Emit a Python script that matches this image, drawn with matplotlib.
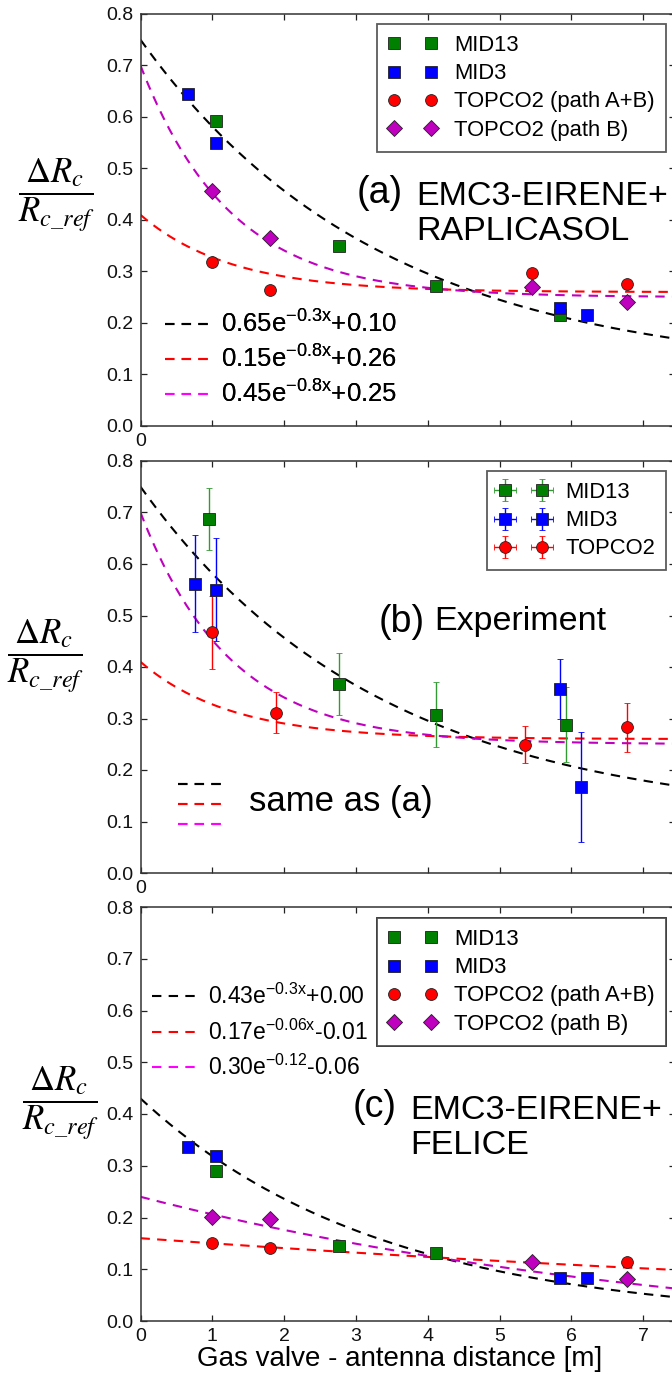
import numpy as np
import matplotlib
matplotlib.use('Agg')
import matplotlib.pyplot as plt
from matplotlib.lines import Line2D

plt.rcParams['font.family'] = ['Liberation Sans', 'DejaVu Sans']
plt.rcParams['mathtext.fontset'] = 'custom'
plt.rcParams['mathtext.rm'] = 'Liberation Sans'
plt.rcParams['mathtext.it'] = 'Liberation Sans'

# ---- data ----
# (a) EMC3-EIRENE + RAPLICASOL
a_mid13_x = [1.05, 2.77, 4.12, 5.84]
a_mid13_y = [0.593, 0.350, 0.272, 0.216]
a_mid3_x = [0.66, 1.05, 5.84, 6.22]
a_mid3_y = [0.644, 0.550, 0.230, 0.216]
a_topab_x = [0.99, 1.81, 5.45, 6.78]
a_topab_y = [0.319, 0.265, 0.298, 0.276]
a_topb_x = [0.99, 1.81, 5.45, 6.78]
a_topb_y = [0.457, 0.366, 0.269, 0.240]

# (b) Experiment
b_mid13_x = [0.96, 2.77, 4.12, 5.93]
b_mid13_y = [0.687, 0.367, 0.307, 0.288]
b_mid13_err = [0.060, 0.060, 0.063, 0.073]
b_mid3_x = [0.76, 1.05, 5.84, 6.13]
b_mid3_y = [0.562, 0.550, 0.358, 0.167]
b_mid3_err = [0.095, 0.100, 0.058, 0.107]
b_top_x = [0.99, 1.89, 5.36, 6.78]
b_top_y = [0.467, 0.311, 0.249, 0.283]
b_top_err = [0.070, 0.040, 0.036, 0.048]

# (c) EMC3-EIRENE + FELICE
c_mid13_x = [1.05, 2.77, 4.12]
c_mid13_y = [0.290, 0.145, 0.132]
c_mid3_x = [0.66, 1.05, 5.84, 6.22]
c_mid3_y = [0.337, 0.319, 0.084, 0.084]
c_topab_x = [0.99, 1.81, 6.78]
c_topab_y = [0.151, 0.142, 0.114]
c_topb_x = [0.99, 1.81, 5.45, 6.78]
c_topb_y = [0.201, 0.198, 0.114, 0.082]

# fit curves  A*exp(-k x) + c   (black, red, magenta)
fit_a_amp = [0.65, 0.15, 0.45]
fit_a_rate = [0.3, 0.8, 0.8]
fit_a_off = [0.10, 0.26, 0.25]
fit_a_labels = ['0.65e$^{\\mathrm{-0.3x}}$+0.10',
                '0.15e$^{\\mathrm{-0.8x}}$+0.26',
                '0.45e$^{\\mathrm{-0.8x}}$+0.25']
fit_c_amp = [0.43, 0.17, 0.30]
fit_c_rate = [0.3, 0.06, 0.12]
fit_c_off = [0.00, -0.01, -0.06]
fit_c_labels = ['0.43e$^{\\mathrm{-0.3x}}$+0.00',
                '0.17e$^{\\mathrm{-0.06x}}$-0.01',
                '0.30e$^{\\mathrm{-0.12}}$-0.06']

fit_colors = ['k', 'r', 'm']
leg_colors = ['k', 'r', '#ff00ff']
green = (0, 0.5, 0)
purple = (0.75, 0, 0.75)
dash = (0, (4.5, 3.5))

W, H = 672, 1375
fig = plt.figure(figsize=(W / 100, H / 100), dpi=100)

x0_px, unit_px = 140.5, 71.8
right_px = 675
xmax = (right_px - x0_px) / unit_px


def make_ax(top, bottom):
    ax = fig.add_axes([x0_px / W, 1 - bottom / H, (right_px - x0_px) / W, (bottom - top) / H])
    ax.set_xlim(0, xmax)
    ax.set_ylim(0, 0.8)
    ax.set_xticks(range(8))
    ax.set_yticks(np.arange(0, 0.81, 0.1))
    ax.set_yticklabels(['%.1f' % v for v in np.arange(0, 0.81, 0.1)])
    ax.tick_params(direction='in', top=True, right=True, length=4, width=0.9,
                   labelsize=14, pad=5, colors='#222222', labelcolor='#111111')
    for s in ax.spines.values():
        s.set_linewidth(1.1)
        s.set_color('#333333')
    return ax


def draw_fits(ax, amp, rate, off):
    xs = np.linspace(0, 8, 300)
    for A, k, c, col in zip(amp, rate, off, fit_colors):
        ax.plot(xs, A * np.exp(-k * xs) + c, color=col, ls=dash, lw=1.5, zorder=2)


mk = dict(ms=8.5, mec='#222222', mew=0.6, ls='none', zorder=3)


def draw_points(ax, d):
    hs = []
    hs += ax.plot(d[0][0], d[0][1], 's', color=green, label='MID13', **mk)
    hs += ax.plot(d[1][0], d[1][1], 's', color='b', label='MID3', **mk)
    hs += ax.plot(d[2][0], d[2][1], 'o', color='r', label='TOPCO2 (path A+B)', **mk)
    hs += ax.plot(d[3][0], d[3][1], 'D', color=purple, label='TOPCO2 (path B)', **mk)
    return hs


def box_legend(ax, handles, top_px, panel_top, panel_h):
    leg = ax.legend(handles=handles, loc='upper right', numpoints=2, fontsize=15.8,
                    bbox_to_anchor=((666 - x0_px) / (right_px - x0_px), 1 - (top_px - panel_top) / panel_h),
                    borderaxespad=0, frameon=True, fancybox=False, handlelength=2.3,
                    handletextpad=0.75, labelspacing=0.33, borderpad=0.5)
    leg.get_frame().set_edgecolor('#333333')
    leg.get_frame().set_linewidth(1.3)
    leg.set_zorder(6)
    ax.add_artist(leg)


def fit_legend(ax, labels, x_px, y_px, panel_top, panel_h, fs=18.5, tp=0.35, sp=0.3):
    hs = [Line2D([], [], color=c, ls=dash, lw=1.5) for c in leg_colors]
    leg = ax.legend(hs, labels, loc='center left', frameon=False, fontsize=fs,
                    bbox_to_anchor=((x_px - x0_px) / (right_px - x0_px), 1 - (y_px - panel_top) / panel_h),
                    borderaxespad=0, borderpad=0, handlelength=47 / (fs * 100 / 72), handletextpad=tp,
                    labelspacing=sp)
    leg.set_zorder(5)
    ax.add_artist(leg)
    return leg


def ylabel(x_px, y_px):
    fig.text(x_px / W, 1 - y_px / H, r'$\dfrac{\Delta R_c}{R_{c\_ref}}$', fontsize=25,
             math_fontfamily='stix', ha='center', va='center')


# ---------- panel (a) ----------
ta, ba = 14, 426
ax1 = make_ax(ta, ba)
draw_fits(ax1, fit_a_amp, fit_a_rate, fit_a_off)
h = draw_points(ax1, [(a_mid13_x, a_mid13_y), (a_mid3_x, a_mid3_y),
                      (a_topab_x, a_topab_y), (a_topb_x, a_topb_y)])
box_legend(ax1, h, 24, ta, ba - ta)
fit_legend(ax1, fit_a_labels, 165, 359, ta, ba - ta)
ax1.set_xticklabels(['0'] + [''] * 7)
ax1.text((357 - x0_px) / unit_px, 0.8 * (ba - 193) / (ba - ta), '(a)', fontsize=27, va='center')
ax1.text((416 - x0_px) / unit_px, 0.8 * (ba - 214) / (ba - ta), 'EMC3-EIRENE+\nRAPLICASOL',
         fontsize=24.5, va='center', linespacing=1.15)
ylabel(57, 195)

# ---------- panel (b) ----------
tb, bb = 461, 873
ax2 = make_ax(tb, bb)
draw_fits(ax2, fit_a_amp, fit_a_rate, fit_a_off)
eb = dict(capsize=2.5, elinewidth=1.0, capthick=1.0, **mk)
hb = []
hb.append(ax2.errorbar(b_mid13_x, b_mid13_y, yerr=b_mid13_err, xerr=[0] * 4, fmt='s',
                       color=green, ecolor=(0.2, 0.6, 0.2), label='MID13', **eb))
hb.append(ax2.errorbar(b_mid3_x, b_mid3_y, yerr=b_mid3_err, xerr=[0] * 4, fmt='s',
                       color='b', ecolor='b', label='MID3', **eb))
hb.append(ax2.errorbar(b_top_x, b_top_y, yerr=b_top_err, xerr=[0] * 4, fmt='o',
                       color='r', ecolor='r', label='TOPCO2', **eb))
box_legend(ax2, hb, 471, tb, bb - tb)
fit_legend(ax2, ['', '', ''], 178, 805, tb, bb - tb, fs=12)
ax2.text((249 - x0_px) / unit_px, 0.8 * (bb - 802) / (bb - tb), 'same as (a)', fontsize=25, va='center')
ax2.set_xticklabels(['0'] + [''] * 7)
ax2.text((379 - x0_px) / unit_px, 0.8 * (bb - 622) / (bb - tb), '(b)', fontsize=27, va='center')
ax2.text((434 - x0_px) / unit_px, 0.8 * (bb - 622) / (bb - tb), 'Experiment', fontsize=24.5, va='center')
ylabel(46, 656)

# ---------- panel (c) ----------
tc, bc = 907, 1321
ax3 = make_ax(tc, bc)
draw_fits(ax3, fit_c_amp, fit_c_rate, fit_c_off)
h = draw_points(ax3, [(c_mid13_x, c_mid13_y), (c_mid3_x, c_mid3_y),
                      (c_topab_x, c_topab_y), (c_topb_x, c_topb_y)])
fit_legend(ax3, fit_c_labels, 152, 1032, tc, bc - tc, fs=16.5, tp=0.4, sp=0.45)
box_legend(ax3, h, 918, tc, bc - tc)
ax3.text((353 - x0_px) / unit_px, 0.8 * (bc - 1107) / (bc - tc), '(c)', fontsize=27, va='center')
ax3.text((410 - x0_px) / unit_px, 0.8 * (bc - 1128) / (bc - tc), 'EMC3-EIRENE+\nFELICE',
         fontsize=24.5, va='center', linespacing=1.15)
ylabel(61, 1103)
fig.text(400 / W, 1 - 1359 / H, 'Gas valve - antenna distance [m]', fontsize=20,
         ha='center', va='center')

fig.savefig('out.png', dpi=100)
